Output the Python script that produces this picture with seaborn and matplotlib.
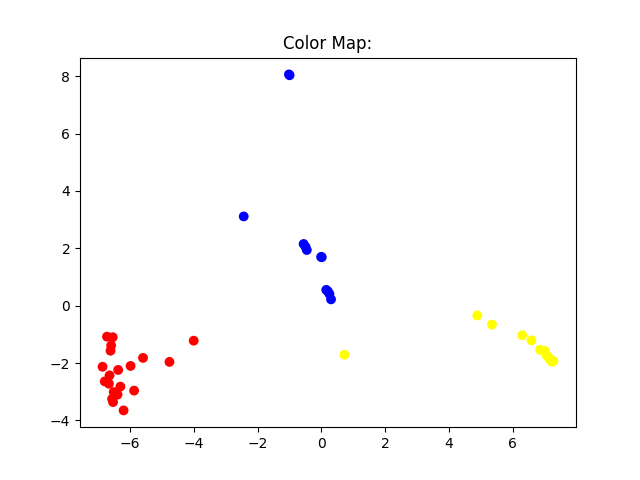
import pandas as pd
import matplotlib
matplotlib.use('Agg')
import matplotlib.pyplot as plt
import seaborn as sns

# نقاط هر خوشه (از روی تصویر خوانده شده)
red_x = [-6.73, -6.55, -6.6, -6.62, -4.01, -5.6, -4.77, -6.87, -6.38, -5.99,
         -6.65, -6.8, -6.67, -6.31, -5.88, -6.52, -6.57, -6.54, -6.21, -6.4]
red_y = [-1.08, -1.1, -1.39, -1.57, -1.22, -1.82, -1.96, -2.13, -2.24, -2.1,
         -2.43, -2.64, -2.72, -2.82, -2.96, -3.01, -3.25, -3.36, -3.65, -3.1]

blue_x = [-1.0, -1.02, -2.44, -0.56, -0.5, -0.46, 0.01, -0.01, 0.15, 0.2, 0.25, 0.3]
blue_y = [8.03, 8.06, 3.11, 2.15, 2.05, 1.94, 1.69, 1.7, 0.55, 0.5, 0.41, 0.22]

yellow_x = [4.89, 5.35, 6.3, 6.59, 6.86, 7.0, 7.07, 7.12, 7.18, 7.23, 7.28, 0.72]
yellow_y = [-0.34, -0.66, -1.03, -1.21, -1.54, -1.57, -1.74, -1.8, -1.89, -1.95, -1.93, -1.71]

df = pd.DataFrame({
    'x': red_x + blue_x + yellow_x,
    'y': red_y + blue_y + yellow_y,
    'cluster': ['r'] * len(red_x) + ['b'] * len(blue_x) + ['y'] * len(yellow_x),
})

plt.figure(figsize=(6.4, 4.8), dpi=100)
sns.scatterplot(data=df, x='x', y='y', hue='cluster',
                palette={'r': 'red', 'b': 'blue', 'y': 'yellow'},
                s=50, linewidth=0, legend=False)
plt.title('Color Map:')
plt.xlabel('')
plt.ylabel('')
plt.savefig('out.png')
